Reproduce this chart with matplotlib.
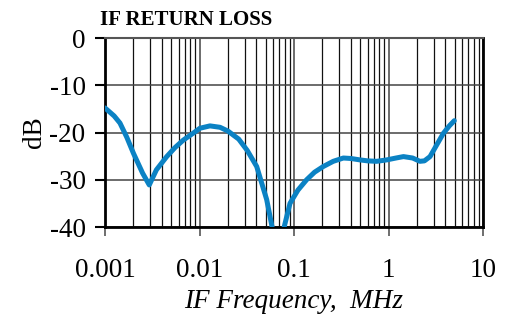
import numpy as np
import matplotlib.pyplot as plt
from matplotlib.ticker import LogLocator, FixedLocator, FuncFormatter, NullFormatter

plt.rcParams['font.family'] = ['Liberation Serif', 'DejaVu Serif']
plt.rcParams['axes.unicode_minus'] = False

# IF return loss (MHz, dB); NaN marks the off-scale notch
freq_mhz = [0.001, 0.00125, 0.00144, 0.0017, 0.002, 0.0025, 0.00294, 0.0035,
            0.0045, 0.0055, 0.00675, 0.0085, 0.0101, 0.0129, 0.0165, 0.02,
            0.026, 0.032, 0.0403, 0.0514, 0.06,
            0.068,
            0.0765, 0.0907, 0.11, 0.136, 0.165, 0.204, 0.26, 0.333, 0.4, 0.5,
            0.6, 0.748, 0.957, 1.2, 1.44, 1.8, 2.15, 2.4, 2.75, 3.2, 3.8, 4.4, 4.97]
return_loss_db = [-14.8, -16.5, -18.0, -21.0, -24.4, -28.6, -31.1, -27.9,
                  -25.1, -23.2, -21.6, -20.2, -19.1, -18.6, -18.9, -19.7,
                  -21.4, -23.8, -27.2, -34.2, -41.0,
                  np.nan,
                  -41.0, -35.0, -32.2, -30.0, -28.4, -27.2, -26.1, -25.4, -25.5, -25.8,
                  -26.0, -26.1, -25.8, -25.4, -25.1, -25.4, -26.1, -26.0, -25.1, -22.8, -20.2, -18.6, -17.5]

x_ticks = [0.001, 0.01, 0.1, 1, 10]
x_tick_labels = ['0.001', '0.01', '0.1', '1', '10']
y_ticks = [0, -10, -20, -30, -40]

fig = plt.figure(figsize=(5.12, 3.17), dpi=100)
ax = fig.add_axes([105 / 512, 1 - 227 / 317, 378 / 512, 189 / 317])

ax.plot(freq_mhz, return_loss_db, color='#0b82c4', linewidth=3.6,
        solid_capstyle='round', solid_joinstyle='round', zorder=3)

ax.set_xscale('log')
ax.set_xlim(0.001, 10)
ax.set_ylim(-40, 0)

ax.xaxis.set_major_locator(FixedLocator(x_ticks))
ax.xaxis.set_major_formatter(FuncFormatter(lambda v, p: x_tick_labels[x_ticks.index(v)] if v in x_ticks else ''))
ax.xaxis.set_minor_locator(LogLocator(base=10, subs=np.arange(2, 10)))
ax.xaxis.set_minor_formatter(NullFormatter())
ax.set_yticks(y_ticks)

ax.grid(which='major', axis='both', color='#444444', linewidth=1.1)
ax.grid(which='minor', axis='x', color='#111111', linewidth=0.9)

ax.tick_params(axis='x', which='major', direction='out', length=6.5, width=1.2,
               labelsize=19.5, pad=16, color='#555555')
ax.tick_params(axis='x', which='minor', length=0)
ax.tick_params(axis='y', which='major', direction='out', length=7, width=1.5,
               labelsize=19.5, pad=7)

for side in ['left', 'bottom', 'right']:
    ax.spines[side].set_linewidth(2.0)
    ax.spines[side].set_color('black')
ax.spines['top'].set_linewidth(1.5)
ax.spines['top'].set_color('#555555')

ax.set_xlabel('IF Frequency,  MHz', fontsize=19.5, style='italic', labelpad=4)
ax.set_ylabel('dB', fontsize=19.5, labelpad=2)

fig.text(100 / 512, 1 - 25 / 317, 'IF RETURN LOSS', fontsize=15, fontweight='bold',
         ha='left', va='baseline')

fig.savefig('out.png', dpi=100)
